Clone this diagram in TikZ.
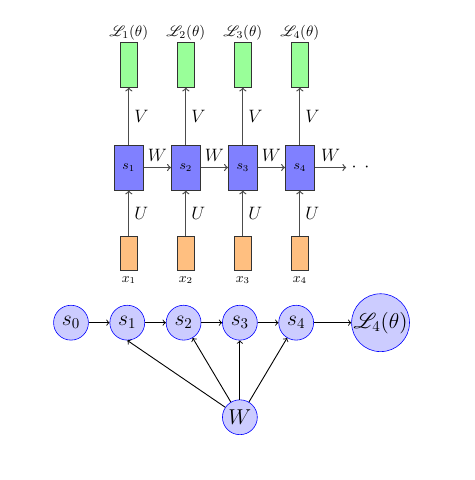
\documentclass[tikz,border=0pt]{standalone}
\usepackage{amsmath}
\usepackage{amssymb}
\usepackage{mathrsfs}
\usetikzlibrary{positioning}

\begin{document}
\begin{tikzpicture}[
  hid/.style = {draw=black!80, semithick, fill=blue!50, inner sep=0pt,
    minimum width=0.68cm, minimum height=1.06cm, font=\small},
  outp/.style = {draw=black!80, semithick, fill=green!40, inner sep=0pt,
    minimum width=0.40cm, minimum height=1.06cm},
  inp/.style = {draw=black!80, semithick, fill=orange!50, inner sep=0pt,
    minimum width=0.40cm, minimum height=0.82cm},
  unit/.style = {shape=circle, draw=blue, fill=blue!20, inner sep=0pt,
    minimum size=0.82cm, font=\Large},
  link/.style = {->, thick, draw=black!70},
  wlink/.style = {->, semithick}]
  \useasboundingbox (0,0) rectangle (11.15,11.29);
  % unrolled network
  \node[hid] (h1) at (3.03,7.35) {$s_1$};
  \node[hid, right=0.64cm of h1] (h2) {$s_2$};
  \node[hid, right=0.64cm of h2] (h3) {$s_3$};
  \node[hid, right=0.64cm of h3] (h4) {$s_4$};
  \node[right=0.74cm of h4, font=\large] (dots) {$\cdot\;\,\cdot$};
  \node[outp, above=1.34cm of h1] (o1) {};
  \node[outp, above=1.34cm of h2] (o2) {};
  \node[outp, above=1.34cm of h3] (o3) {};
  \node[outp, above=1.34cm of h4] (o4) {};
  \node[above=0pt of o1, inner sep=1pt] (l1) {$\mathscr{L}_1(\theta)$};
  \node[above=0pt of o2, inner sep=1pt] (l2) {$\mathscr{L}_2(\theta)$};
  \node[above=0pt of o3, inner sep=1pt] (l3) {$\mathscr{L}_3(\theta)$};
  \node[above=0pt of o4, inner sep=1pt] (l4) {$\mathscr{L}_4(\theta)$};
  \node[inp, below=1.06cm of h1] (x1) {};
  \node[inp, below=1.06cm of h2] (x2) {};
  \node[inp, below=1.06cm of h3] (x3) {};
  \node[inp, below=1.06cm of h4] (x4) {};
  \node[below=0pt of x1, font=\small] (xl1) {$x_1$};
  \node[below=0pt of x2, font=\small] (xl2) {$x_2$};
  \node[below=0pt of x3, font=\small] (xl3) {$x_3$};
  \node[below=0pt of x4, font=\small] (xl4) {$x_4$};
  \draw[link] (x1) -- node[right, font=\large] {$U$} (h1);
  \draw[link] (x2) -- node[right, font=\large] {$U$} (h2);
  \draw[link] (x3) -- node[right, font=\large] {$U$} (h3);
  \draw[link] (x4) -- node[right, font=\large] {$U$} (h4);
  \draw[link] (h1) -- node[right, font=\large] {$V$} (o1);
  \draw[link] (h2) -- node[right, font=\large] {$V$} (o2);
  \draw[link] (h3) -- node[right, font=\large] {$V$} (o3);
  \draw[link] (h4) -- node[right, font=\large] {$V$} (o4);
  \draw[link] (h1) -- node[above, font=\large] {$W$} (h2);
  \draw[link] (h2) -- node[above, font=\large] {$W$} (h3);
  \draw[link] (h3) -- node[above, font=\large] {$W$} (h4);
  \draw[link] (h4) -- node[above, font=\large] {$W$} (dots);
  % shared weights
  \node[unit] (s0) at (1.67,3.70) {$s_0$};
  \node[unit, right=0.49cm of s0] (s1) {$s_1$};
  \node[unit, right=0.49cm of s1] (s2) {$s_2$};
  \node[unit, right=0.49cm of s2] (s3) {$s_3$};
  \node[unit, right=0.49cm of s3] (s4) {$s_4$};
  \node[unit, minimum size=1.36cm, right=0.88cm of s4] (loss) {$\mathscr{L}_4(\theta)$};
  \node[unit, below=1.39cm of s3] (w) {$W$};
  \draw[wlink] (s0) -- (s1);
  \draw[wlink] (s1) -- (s2);
  \draw[wlink] (s2) -- (s3);
  \draw[wlink] (s3) -- (s4);
  \draw[wlink] (s4) -- (loss);
  \draw[wlink] (w) -- (s1.south);
  \draw[wlink] (w) -- (s2);
  \draw[wlink] (w) -- (s3);
  \draw[wlink] (w) -- (s4);
\end{tikzpicture}
\end{document}
